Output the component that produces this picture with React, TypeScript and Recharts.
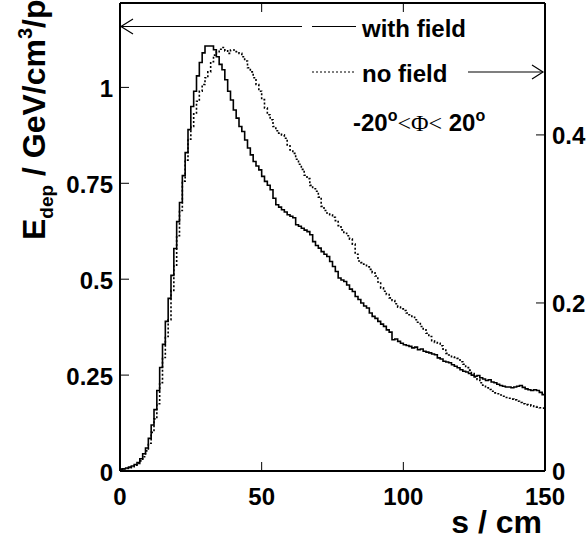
import { ComposedChart, Line, XAxis, YAxis } from 'recharts';

// bin edges in cm (1 cm bins, last edge closes the final step)
const binEdges = Array.from({ length: 151 }, (_, i) => i);

// E_dep with field (left axis), one value per 1 cm bin
const withField = [
  0.005, 0.006, 0.008, 0.010, 0.013, 0.017, 0.022, 0.032, 0.045, 0.060,
  0.085, 0.120, 0.160, 0.210, 0.270, 0.330, 0.390, 0.450, 0.510, 0.580,
  0.650, 0.700, 0.770, 0.830, 0.890, 0.950, 0.990, 1.030, 1.065, 1.090,
  1.108, 1.108, 1.108, 1.098, 1.080, 1.060, 1.046, 1.020, 0.990, 0.967,
  0.941, 0.920, 0.898, 0.885, 0.863, 0.842, 0.824, 0.807, 0.795, 0.785,
  0.768, 0.755, 0.745, 0.733, 0.711, 0.694, 0.688, 0.681, 0.675, 0.668,
  0.664, 0.660, 0.642, 0.638, 0.633, 0.628, 0.624, 0.616, 0.598, 0.588,
  0.581, 0.572, 0.565, 0.559, 0.546, 0.533, 0.520, 0.503, 0.498, 0.494,
  0.485, 0.474, 0.468, 0.455, 0.447, 0.438, 0.430, 0.425, 0.412, 0.403,
  0.398, 0.390, 0.383, 0.377, 0.368, 0.362, 0.342, 0.344, 0.338, 0.333,
  0.329, 0.327, 0.325, 0.321, 0.323, 0.316, 0.318, 0.312, 0.310, 0.308,
  0.305, 0.303, 0.295, 0.292, 0.286, 0.284, 0.282, 0.277, 0.273, 0.269,
  0.264, 0.260, 0.258, 0.254, 0.250, 0.247, 0.249, 0.243, 0.240, 0.236,
  0.238, 0.232, 0.230, 0.226, 0.223, 0.221, 0.219, 0.219, 0.217, 0.219,
  0.221, 0.223, 0.218, 0.214, 0.212, 0.210, 0.212, 0.210, 0.205, 0.199,
];

// E_dep without field (right axis)
const noField = [
  0.002, 0.0025, 0.003, 0.004, 0.005, 0.007, 0.009, 0.012, 0.017, 0.024,
  0.033, 0.046, 0.062, 0.080, 0.105, 0.135, 0.160, 0.180, 0.215, 0.245,
  0.280, 0.310, 0.345, 0.370, 0.395, 0.410, 0.425, 0.440, 0.452, 0.460,
  0.468, 0.475, 0.487, 0.495, 0.499, 0.502, 0.504, 0.500, 0.497, 0.501,
  0.501, 0.499, 0.497, 0.493, 0.488, 0.480, 0.475, 0.468, 0.460, 0.452,
  0.442, 0.432, 0.424, 0.418, 0.410, 0.405, 0.402, 0.400, 0.396, 0.388,
  0.382, 0.378, 0.371, 0.365, 0.359, 0.352, 0.348, 0.340, 0.336, 0.333,
  0.326, 0.315, 0.310, 0.307, 0.305, 0.302, 0.298, 0.292, 0.287, 0.283,
  0.280, 0.276, 0.270, 0.258, 0.250, 0.248, 0.246, 0.243, 0.240, 0.236,
  0.232, 0.225, 0.218, 0.214, 0.210, 0.206, 0.203, 0.199, 0.195, 0.193,
  0.191, 0.188, 0.186, 0.183, 0.180, 0.177, 0.172, 0.169, 0.164, 0.160,
  0.155, 0.153, 0.152, 0.149, 0.145, 0.140, 0.138, 0.136, 0.135, 0.134,
  0.130, 0.127, 0.123, 0.120, 0.116, 0.112, 0.109, 0.105, 0.102, 0.099,
  0.097, 0.095, 0.093, 0.092, 0.0905, 0.089, 0.0875, 0.0866, 0.0856, 0.0846,
  0.083, 0.0815, 0.080, 0.079, 0.0787, 0.0775, 0.0767, 0.076, 0.0752, 0.0748,
];

const xTicks = [0, 50, 100, 150];
const topTicks = [50, 100];
const leftTicks = [0, 0.25, 0.5, 0.75, 1];
const rightTicks = [0, 0.2, 0.4];

const data = binEdges.map((s, i) => ({
  s,
  withField: withField[Math.min(i, withField.length - 1)],
  noField: noField[Math.min(i, noField.length - 1)],
}));

const FONT = '"Liberation Sans", Arial, Helvetica, sans-serif';
const SERIF = '"Liberation Serif", "Times New Roman", serif';

const BottomTick = ({ x, y, payload }: any) => (
  <g>
    <line x1={x} x2={x} y1={y} y2={y - 9} stroke="#000" strokeWidth={1} />
    <text x={x} y={y + 34} textAnchor="middle" fontFamily={FONT} fontWeight="bold" fontSize={24} fill="#000">
      {payload.value}
    </text>
  </g>
);

const TopTick = ({ x, y }: any) => (
  <line x1={x} x2={x} y1={y} y2={y + 9} stroke="#000" strokeWidth={1} />
);

const LeftTick = ({ x, y, payload }: any) => (
  <g>
    <line x1={x} x2={x + 9} y1={y} y2={y} stroke="#000" strokeWidth={1} />
    <text x={x - 7} y={y + 10} textAnchor="end" fontFamily={FONT} fontWeight="bold" fontSize={24} fill="#000">
      {payload.value}
    </text>
  </g>
);

const RightTick = ({ x, y, payload }: any) => (
  <g>
    <line x1={x} x2={x - 9} y1={y} y2={y} stroke="#000" strokeWidth={1} />
    <text x={x + 7} y={y + 9} textAnchor="start" fontFamily={FONT} fontWeight="bold" fontSize={24} fill="#000">
      {payload.value}
    </text>
  </g>
);

export default function App() {
  return (
    <div style={{ position: 'absolute', left: 0, top: 0, width: 586, height: 545, background: '#fff' }}>
      <ComposedChart width={586} height={545} data={data} margin={{ top: 0, right: 0, bottom: 0, left: 0 }}>
        <XAxis
          dataKey="s"
          type="number"
          domain={[0, 150]}
          ticks={xTicks}
          interval={0}
          height={74}
          axisLine={{ stroke: '#000', strokeWidth: 2 }}
          tickLine={false}
          tickSize={0}
          tickMargin={0}
          tick={<BottomTick />}
        />
        <XAxis
          xAxisId="top"
          orientation="top"
          dataKey="s"
          type="number"
          domain={[0, 150]}
          ticks={topTicks}
          interval={0}
          height={3}
          axisLine={{ stroke: '#000', strokeWidth: 2 }}
          tickLine={false}
          tickSize={0}
          tickMargin={0}
          tick={<TopTick />}
        />
        <YAxis
          yAxisId="left"
          type="number"
          domain={[0, 1.22]}
          ticks={leftTicks}
          interval={0}
          width={120}
          axisLine={{ stroke: '#000', strokeWidth: 2 }}
          tickLine={false}
          tickSize={0}
          tickMargin={0}
          tick={<LeftTick />}
        />
        <YAxis
          yAxisId="right"
          orientation="right"
          type="number"
          domain={[0, 0.557]}
          ticks={rightTicks}
          interval={0}
          width={41}
          axisLine={{ stroke: '#000', strokeWidth: 2 }}
          tickLine={false}
          tickSize={0}
          tickMargin={0}
          tick={<RightTick />}
        />
        <Line
          yAxisId="left"
          type="stepAfter"
          dataKey="withField"
          stroke="#000"
          strokeWidth={1.6}
          dot={false}
          isAnimationActive={false}
        />
        <Line
          xAxisId="top"
          yAxisId="right"
          type="stepAfter"
          dataKey="noField"
          stroke="#000"
          strokeWidth={1.6}
          strokeDasharray="2 2"
          dot={false}
          isAnimationActive={false}
        />
      </ComposedChart>

      {/* legend, arrows and axis titles */}
      <svg width={586} height={545} style={{ position: 'absolute', left: 0, top: 0, pointerEvents: 'none' }}>
        <g stroke="#000" strokeWidth={1.2} fill="none">
          <line x1={121} y1={26.5} x2={302} y2={26.5} />
          <polyline points="133,19 121,26.5 133,34" />
          <line x1={312} y1={26.5} x2={356} y2={26.5} />
          <line x1={312} y1={72} x2={354} y2={72} strokeDasharray="2 2" />
          <line x1={468} y1={72} x2={543} y2={72} />
          <polyline points="532,65 543,72 532,79" />
        </g>
        <g fontFamily={FONT} fontWeight="bold" fill="#000">
          <text x={362} y={36.5} fontSize={24}>with field</text>
          <text x={362} y={82} fontSize={24}>no field</text>
          <text x={353} y={131} fontSize={24}>
            -20<tspan fontSize={16} dy={-10}>o</tspan>
            <tspan dy={10} fontFamily={SERIF} fontWeight="normal">&lt;Φ&lt;</tspan>
            <tspan> 20</tspan>
            <tspan fontSize={16} dy={-10}>o</tspan>
          </text>
          <text x={542} y={533} fontSize={32} textAnchor="end">s / cm</text>
          <text transform="translate(45,240) rotate(-90)" fontSize={32}>
            E<tspan fontSize={19} dy={8}>dep</tspan>
            <tspan dy={-8}> / GeV/cm</tspan>
            <tspan fontSize={20} dy={-13}>3</tspan>
            <tspan dy={13}>/p</tspan>
          </text>
        </g>
      </svg>
    </div>
  );
}
